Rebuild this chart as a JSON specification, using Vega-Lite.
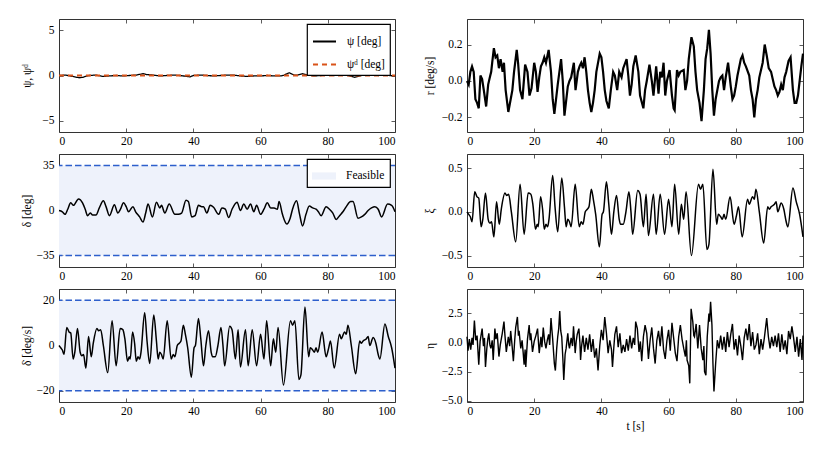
{
  "$schema": "https://vega.github.io/schema/vega-lite/v6.json",
  "background": "white",
  "padding": {"left": 21, "top": 18, "right": 5, "bottom": 5},
  "datasets": {
    "psi": [
      {"t": 0, "v": 0, "s": "ψ [deg]"}, {"t": 2, "v": 0.05, "s": "ψ [deg]"}, {"t": 4, "v": -0.1, "s": "ψ [deg]"}, {"t": 6, "v": -0.25, "s": "ψ [deg]"}, {"t": 7, "v": -0.2, "s": "ψ [deg]"}, {"t": 9, "v": 0, "s": "ψ [deg]"}, {"t": 11, "v": 0.05, "s": "ψ [deg]"}, {"t": 13, "v": -0.1, "s": "ψ [deg]"}, {"t": 15, "v": -0.05, "s": "ψ [deg]"}, {"t": 17, "v": 0, "s": "ψ [deg]"}, {"t": 19, "v": -0.05, "s": "ψ [deg]"}, {"t": 21, "v": 0, "s": "ψ [deg]"}, {"t": 23, "v": 0.05, "s": "ψ [deg]"}, {"t": 25, "v": 0.2, "s": "ψ [deg]"}, {"t": 26, "v": 0.1, "s": "ψ [deg]"}, {"t": 28, "v": 0.05, "s": "ψ [deg]"}, {"t": 30, "v": -0.05, "s": "ψ [deg]"}, {"t": 32, "v": 0, "s": "ψ [deg]"}, {"t": 34, "v": 0.05, "s": "ψ [deg]"}, {"t": 36, "v": 0, "s": "ψ [deg]"}, {"t": 38, "v": -0.1, "s": "ψ [deg]"}, {"t": 39, "v": -0.15, "s": "ψ [deg]"}, {"t": 40, "v": 0, "s": "ψ [deg]"}, {"t": 42, "v": 0.05, "s": "ψ [deg]"}, {"t": 44, "v": 0, "s": "ψ [deg]"}, {"t": 46, "v": -0.05, "s": "ψ [deg]"}, {"t": 48, "v": 0, "s": "ψ [deg]"}, {"t": 50, "v": 0.05, "s": "ψ [deg]"}, {"t": 52, "v": 0.05, "s": "ψ [deg]"}, {"t": 54, "v": -0.05, "s": "ψ [deg]"}, {"t": 56, "v": -0.1, "s": "ψ [deg]"}, {"t": 58, "v": -0.05, "s": "ψ [deg]"}, {"t": 60, "v": -0.05, "s": "ψ [deg]"}, {"t": 62, "v": 0, "s": "ψ [deg]"}, {"t": 64, "v": -0.05, "s": "ψ [deg]"}, {"t": 66, "v": -0.05, "s": "ψ [deg]"}, {"t": 67, "v": 0.05, "s": "ψ [deg]"}, {"t": 68.5, "v": 0.3, "s": "ψ [deg]"}, {"t": 70, "v": 0.05, "s": "ψ [deg]"}, {"t": 71, "v": 0.05, "s": "ψ [deg]"}, {"t": 72.5, "v": 0.2, "s": "ψ [deg]"}, {"t": 74, "v": 0.05, "s": "ψ [deg]"}, {"t": 76, "v": -0.05, "s": "ψ [deg]"}, {"t": 78, "v": 0, "s": "ψ [deg]"}, {"t": 80, "v": 0.05, "s": "ψ [deg]"}, {"t": 82, "v": 0, "s": "ψ [deg]"}, {"t": 84, "v": 0.15, "s": "ψ [deg]"}, {"t": 85, "v": 0.1, "s": "ψ [deg]"}, {"t": 86, "v": 0, "s": "ψ [deg]"}, {"t": 88, "v": -0.2, "s": "ψ [deg]"}, {"t": 89, "v": -0.1, "s": "ψ [deg]"}, {"t": 91, "v": 0.1, "s": "ψ [deg]"}, {"t": 93, "v": 0.05, "s": "ψ [deg]"}, {"t": 95, "v": 0, "s": "ψ [deg]"}, {"t": 97, "v": 0.05, "s": "ψ [deg]"}, {"t": 100, "v": -0.05, "s": "ψ [deg]"},
      {"t": 0, "v": 0, "s": "ψᵈ [deg]"}, {"t": 100, "v": 0, "s": "ψᵈ [deg]"}
    ],
    "delta": [
      {"t": 0, "d": 0}, {"t": 1, "d": -1}, {"t": 1.8, "d": -3}, {"t": 2.6, "d": 1}, {"t": 3.5, "d": 6}, {"t": 4.3, "d": 4}, {"t": 5.8, "d": 9}, {"t": 7, "d": 6}, {"t": 7.8, "d": 1}, {"t": 8.5, "d": -4}, {"t": 9.3, "d": -2}, {"t": 10, "d": -3.5}, {"t": 11, "d": -3.5}, {"t": 12, "d": 2}, {"t": 13.2, "d": 7.5}, {"t": 14, "d": 3}, {"t": 15, "d": -4}, {"t": 16.5, "d": 4.5}, {"t": 17.5, "d": -2}, {"t": 18.3, "d": 1}, {"t": 19.2, "d": 6}, {"t": 20, "d": 3}, {"t": 20.7, "d": -1}, {"t": 22, "d": 3}, {"t": 22.8, "d": -1}, {"t": 24, "d": -5}, {"t": 25, "d": -9}, {"t": 25.8, "d": -2}, {"t": 26.5, "d": 5}, {"t": 27.8, "d": -5}, {"t": 29, "d": 6.5}, {"t": 30, "d": 2}, {"t": 30.5, "d": 4}, {"t": 31.5, "d": -2}, {"t": 32.8, "d": 5}, {"t": 34.5, "d": -3}, {"t": 35.5, "d": -3}, {"t": 36.5, "d": -2}, {"t": 37.8, "d": 8}, {"t": 38.5, "d": 7}, {"t": 39.5, "d": -5}, {"t": 40.5, "d": -4}, {"t": 41.5, "d": 4}, {"t": 42.5, "d": 3}, {"t": 43, "d": 3}, {"t": 44, "d": -2}, {"t": 45, "d": 4}, {"t": 46, "d": 2.5}, {"t": 47.5, "d": -3}, {"t": 48.5, "d": 2}, {"t": 49.5, "d": 1}, {"t": 50.5, "d": -5.5}, {"t": 51.5, "d": 1}, {"t": 53, "d": 6.5}, {"t": 54, "d": 0}, {"t": 55, "d": 5}, {"t": 56, "d": 1}, {"t": 57, "d": 5}, {"t": 58, "d": -1}, {"t": 58.8, "d": 4}, {"t": 60, "d": -3}, {"t": 61, "d": 1}, {"t": 62, "d": 6}, {"t": 63, "d": 2}, {"t": 64, "d": 2}, {"t": 65, "d": 1}, {"t": 65.5, "d": 7}, {"t": 66.5, "d": -3}, {"t": 67.8, "d": -10.5}, {"t": 68.8, "d": -6}, {"t": 69.5, "d": 1}, {"t": 70.7, "d": 7.5}, {"t": 71.6, "d": -3}, {"t": 72.5, "d": -12}, {"t": 73.5, "d": -3}, {"t": 74.5, "d": 3.5}, {"t": 75.5, "d": 2}, {"t": 76.5, "d": 1}, {"t": 77.2, "d": -1}, {"t": 78, "d": -4}, {"t": 79.5, "d": 3}, {"t": 80.5, "d": 1}, {"t": 81.5, "d": -2}, {"t": 82.5, "d": -7}, {"t": 83.5, "d": -4}, {"t": 84.5, "d": -1}, {"t": 85.5, "d": 3}, {"t": 86.8, "d": 7}, {"t": 87.5, "d": 7}, {"t": 89, "d": -6}, {"t": 90, "d": -5}, {"t": 91, "d": -3}, {"t": 92, "d": 0}, {"t": 93, "d": 2}, {"t": 94, "d": 3}, {"t": 95, "d": 1}, {"t": 96, "d": -5}, {"t": 97.8, "d": 5}, {"t": 99, "d": 4}, {"t": 100, "d": -1}
    ],
    "rate": [
      {"t": 0, "dd": 0, "xi": 0}, {"t": 0.5, "dd": -1, "xi": -0.029}, {"t": 1, "dd": -2, "xi": -0.057}, {"t": 1.5, "dd": -4, "xi": -0.114}, {"t": 2.3, "dd": 8, "xi": 0.229}, {"t": 3, "dd": 6, "xi": 0.171}, {"t": 3.5, "dd": 5.5, "xi": 0.157}, {"t": 4.2, "dd": -6, "xi": -0.171}, {"t": 4.7, "dd": -3, "xi": -0.086}, {"t": 5.5, "dd": 7.5, "xi": 0.214}, {"t": 6.3, "dd": -3, "xi": -0.086}, {"t": 6.8, "dd": -4.5, "xi": -0.129}, {"t": 7.3, "dd": -4, "xi": -0.114}, {"t": 8, "dd": -10, "xi": -0.286}, {"t": 8.8, "dd": 4, "xi": 0.114}, {"t": 9.6, "dd": -5, "xi": -0.143}, {"t": 10.2, "dd": 1, "xi": 0.029}, {"t": 11.3, "dd": 7.5, "xi": 0.214}, {"t": 11.8, "dd": 6.5, "xi": 0.186}, {"t": 12.4, "dd": 7, "xi": 0.2}, {"t": 13.2, "dd": 0, "xi": 0}, {"t": 14.5, "dd": -12, "xi": -0.343}, {"t": 15.8, "dd": 11, "xi": 0.314}, {"t": 17, "dd": -9, "xi": -0.257}, {"t": 18.2, "dd": 7.5, "xi": 0.214}, {"t": 19, "dd": 7, "xi": 0.2}, {"t": 19.6, "dd": 3, "xi": 0.086}, {"t": 20.4, "dd": -7, "xi": -0.2}, {"t": 20.9, "dd": -5, "xi": -0.143}, {"t": 21.2, "dd": -6, "xi": -0.171}, {"t": 21.9, "dd": 6, "xi": 0.171}, {"t": 22.5, "dd": 1, "xi": 0.029}, {"t": 23, "dd": -7, "xi": -0.2}, {"t": 23.5, "dd": -5, "xi": -0.143}, {"t": 24, "dd": -6, "xi": -0.171}, {"t": 24.4, "dd": -3, "xi": -0.086}, {"t": 25.5, "dd": 14.5, "xi": 0.414}, {"t": 26.2, "dd": 2, "xi": 0.057}, {"t": 27, "dd": -8, "xi": -0.229}, {"t": 28.2, "dd": 13.5, "xi": 0.386}, {"t": 29, "dd": 2, "xi": 0.057}, {"t": 29.5, "dd": -6, "xi": -0.171}, {"t": 30, "dd": -3, "xi": -0.086}, {"t": 30.5, "dd": -4, "xi": -0.114}, {"t": 31, "dd": -6, "xi": -0.171}, {"t": 32.2, "dd": 11, "xi": 0.314}, {"t": 33.4, "dd": -6, "xi": -0.171}, {"t": 34, "dd": -4, "xi": -0.114}, {"t": 34.5, "dd": -5, "xi": -0.143}, {"t": 35.2, "dd": 0, "xi": 0}, {"t": 35.8, "dd": 1, "xi": 0.029}, {"t": 36.3, "dd": 2, "xi": 0.057}, {"t": 37, "dd": 9, "xi": 0.257}, {"t": 37.6, "dd": 5, "xi": 0.143}, {"t": 38.3, "dd": -1, "xi": -0.029}, {"t": 39.4, "dd": -14, "xi": -0.4}, {"t": 40.2, "dd": -1, "xi": -0.029}, {"t": 40.6, "dd": 0, "xi": 0}, {"t": 41.5, "dd": 12, "xi": 0.343}, {"t": 42.2, "dd": 3, "xi": 0.086}, {"t": 43, "dd": -9, "xi": -0.257}, {"t": 43.7, "dd": 0, "xi": 0}, {"t": 44.5, "dd": 6.5, "xi": 0.186}, {"t": 45.3, "dd": -3, "xi": -0.086}, {"t": 45.7, "dd": -5, "xi": -0.143}, {"t": 46.5, "dd": -5, "xi": -0.143}, {"t": 47.3, "dd": 0, "xi": 0}, {"t": 48.2, "dd": 8, "xi": 0.229}, {"t": 48.8, "dd": 0, "xi": 0}, {"t": 49.3, "dd": -9, "xi": -0.257}, {"t": 50.8, "dd": 8.5, "xi": 0.243}, {"t": 51.5, "dd": 7, "xi": 0.2}, {"t": 52.5, "dd": -6, "xi": -0.171}, {"t": 53.3, "dd": 7, "xi": 0.2}, {"t": 54, "dd": -9.5, "xi": -0.271}, {"t": 55.5, "dd": 7, "xi": 0.2}, {"t": 56.3, "dd": -9, "xi": -0.257}, {"t": 57.5, "dd": 7, "xi": 0.2}, {"t": 58.8, "dd": -9, "xi": -0.257}, {"t": 60, "dd": 5, "xi": 0.143}, {"t": 61, "dd": -6, "xi": -0.171}, {"t": 61.8, "dd": 11, "xi": 0.314}, {"t": 63, "dd": -9, "xi": -0.257}, {"t": 63.8, "dd": 3, "xi": 0.086}, {"t": 64.5, "dd": -3, "xi": -0.086}, {"t": 65.2, "dd": 8, "xi": 0.229}, {"t": 66.8, "dd": -17.5, "xi": -0.5}, {"t": 68.9, "dd": 11, "xi": 0.314}, {"t": 69.5, "dd": 9, "xi": 0.257}, {"t": 70.2, "dd": 11, "xi": 0.314}, {"t": 71.4, "dd": -15, "xi": -0.429}, {"t": 72, "dd": -13, "xi": -0.371}, {"t": 73.2, "dd": 17, "xi": 0.486}, {"t": 74.3, "dd": -5, "xi": -0.143}, {"t": 74.8, "dd": -1, "xi": -0.029}, {"t": 75.5, "dd": -2, "xi": -0.057}, {"t": 76, "dd": -3, "xi": -0.086}, {"t": 76.5, "dd": -1, "xi": -0.029}, {"t": 77, "dd": -3, "xi": -0.086}, {"t": 78.3, "dd": 6, "xi": 0.171}, {"t": 79.5, "dd": -5, "xi": -0.143}, {"t": 80.2, "dd": -1.5, "xi": -0.043}, {"t": 80.8, "dd": 2, "xi": 0.057}, {"t": 81.9, "dd": -10, "xi": -0.286}, {"t": 83.5, "dd": 5, "xi": 0.143}, {"t": 84, "dd": 3, "xi": 0.086}, {"t": 85, "dd": 6, "xi": 0.171}, {"t": 85.5, "dd": 5, "xi": 0.143}, {"t": 86, "dd": 9, "xi": 0.257}, {"t": 87, "dd": 0, "xi": 0}, {"t": 88.3, "dd": -12.5, "xi": -0.357}, {"t": 89.5, "dd": 2, "xi": 0.057}, {"t": 90, "dd": 1, "xi": 0.029}, {"t": 90.5, "dd": 2, "xi": 0.057}, {"t": 91.5, "dd": 3, "xi": 0.086}, {"t": 92, "dd": 4, "xi": 0.114}, {"t": 92.5, "dd": 0, "xi": 0}, {"t": 93.5, "dd": 3.5, "xi": 0.1}, {"t": 94.3, "dd": 1, "xi": 0.029}, {"t": 95, "dd": -4, "xi": -0.114}, {"t": 95.5, "dd": -6, "xi": -0.171}, {"t": 97, "dd": 9.5, "xi": 0.271}, {"t": 98, "dd": 4, "xi": 0.114}, {"t": 99, "dd": -1, "xi": -0.029}, {"t": 100, "dd": -10, "xi": -0.286}
    ],
    "yaw": [
      {"t": 0, "r": 0}, {"t": 0.5, "r": -0.02}, {"t": 1, "r": 0.05}, {"t": 1.5, "r": 0.08}, {"t": 2, "r": 0.05}, {"t": 2.5, "r": -0.1}, {"t": 3, "r": -0.12}, {"t": 3.5, "r": -0.15}, {"t": 4, "r": 0.03}, {"t": 4.5, "r": 0.01}, {"t": 5, "r": -0.05}, {"t": 5.7, "r": -0.14}, {"t": 6.3, "r": -0.02}, {"t": 6.8, "r": 0.02}, {"t": 7.2, "r": 0.05}, {"t": 7.5, "r": 0.1}, {"t": 8, "r": 0.18}, {"t": 8.5, "r": 0.13}, {"t": 9, "r": 0.14}, {"t": 9.5, "r": 0.07}, {"t": 10, "r": 0.12}, {"t": 10.6, "r": 0.05}, {"t": 11, "r": 0.1}, {"t": 11.5, "r": -0.05}, {"t": 12.3, "r": -0.17}, {"t": 13, "r": -0.1}, {"t": 13.5, "r": -0.05}, {"t": 14, "r": 0.05}, {"t": 14.8, "r": 0.17}, {"t": 15.2, "r": 0.1}, {"t": 15.8, "r": -0.05}, {"t": 16.5, "r": -0.1}, {"t": 17.3, "r": 0.09}, {"t": 18, "r": 0.05}, {"t": 18.6, "r": -0.08}, {"t": 19.2, "r": -0.04}, {"t": 20, "r": 0.1}, {"t": 20.5, "r": 0.05}, {"t": 21, "r": -0.06}, {"t": 21.5, "r": 0.02}, {"t": 22, "r": 0.08}, {"t": 22.5, "r": 0.1}, {"t": 23, "r": 0.13}, {"t": 23.5, "r": 0.1}, {"t": 24.3, "r": 0.17}, {"t": 25, "r": 0.05}, {"t": 25.5, "r": -0.1}, {"t": 26, "r": -0.18}, {"t": 27, "r": -0.02}, {"t": 27.5, "r": 0.05}, {"t": 28, "r": 0.12}, {"t": 28.5, "r": 0}, {"t": 29, "r": -0.19}, {"t": 30, "r": -0.03}, {"t": 30.5, "r": 0}, {"t": 31, "r": 0.02}, {"t": 31.8, "r": 0.1}, {"t": 32.3, "r": -0.05}, {"t": 33, "r": 0.05}, {"t": 33.5, "r": 0.08}, {"t": 34, "r": 0.1}, {"t": 34.5, "r": 0.07}, {"t": 35, "r": 0.13}, {"t": 35.5, "r": 0.05}, {"t": 36, "r": -0.05}, {"t": 36.5, "r": -0.12}, {"t": 37, "r": -0.17}, {"t": 37.5, "r": -0.12}, {"t": 38, "r": -0.05}, {"t": 38.5, "r": 0.05}, {"t": 39.5, "r": 0.15}, {"t": 40, "r": 0.13}, {"t": 40.5, "r": 0.05}, {"t": 41, "r": -0.05}, {"t": 41.5, "r": -0.11}, {"t": 42.2, "r": -0.15}, {"t": 42.8, "r": -0.05}, {"t": 43.5, "r": 0.05}, {"t": 44, "r": 0.03}, {"t": 44.7, "r": -0.05}, {"t": 45.3, "r": 0.05}, {"t": 46, "r": 0.02}, {"t": 46.5, "r": 0.07}, {"t": 47.5, "r": 0.12}, {"t": 48, "r": 0.03}, {"t": 48.5, "r": -0.08}, {"t": 49, "r": -0.02}, {"t": 49.5, "r": 0.08}, {"t": 50.2, "r": 0.14}, {"t": 51, "r": 0.05}, {"t": 51.5, "r": -0.08}, {"t": 52.5, "r": -0.15}, {"t": 53, "r": -0.05}, {"t": 53.5, "r": 0}, {"t": 54.3, "r": 0.09}, {"t": 55, "r": 0}, {"t": 55.5, "r": -0.08}, {"t": 56.3, "r": 0.08}, {"t": 57, "r": -0.07}, {"t": 57.5, "r": 0.05}, {"t": 58, "r": 0.02}, {"t": 58.5, "r": 0.1}, {"t": 59, "r": -0.08}, {"t": 59.5, "r": 0}, {"t": 60.3, "r": 0.06}, {"t": 61, "r": -0.08}, {"t": 61.5, "r": -0.15}, {"t": 61.8, "r": -0.16}, {"t": 62.5, "r": 0.06}, {"t": 63, "r": 0.03}, {"t": 63.5, "r": 0.05}, {"t": 64.5, "r": 0.06}, {"t": 65, "r": -0.05}, {"t": 65.5, "r": 0}, {"t": 66, "r": 0.12}, {"t": 66.8, "r": 0.24}, {"t": 67.5, "r": 0.19}, {"t": 68, "r": 0.05}, {"t": 68.5, "r": -0.05}, {"t": 69.2, "r": -0.12}, {"t": 69.8, "r": -0.22}, {"t": 70.5, "r": -0.05}, {"t": 71, "r": 0.12}, {"t": 71.5, "r": 0.18}, {"t": 72, "r": 0.28}, {"t": 72.5, "r": 0.15}, {"t": 73, "r": -0.05}, {"t": 73.5, "r": -0.19}, {"t": 74, "r": -0.1}, {"t": 74.5, "r": -0.05}, {"t": 75, "r": 0}, {"t": 75.5, "r": 0.02}, {"t": 76, "r": 0.03}, {"t": 76.5, "r": -0.05}, {"t": 77, "r": 0.02}, {"t": 77.7, "r": 0.1}, {"t": 78.5, "r": -0.03}, {"t": 79, "r": -0.1}, {"t": 79.5, "r": -0.08}, {"t": 80, "r": -0.03}, {"t": 80.5, "r": 0.03}, {"t": 81.5, "r": 0.12}, {"t": 82, "r": 0.14}, {"t": 82.5, "r": 0.1}, {"t": 83, "r": 0.08}, {"t": 84, "r": 0.03}, {"t": 84.5, "r": -0.05}, {"t": 85, "r": -0.1}, {"t": 85.5, "r": -0.2}, {"t": 86, "r": -0.1}, {"t": 86.5, "r": -0.05}, {"t": 87, "r": 0.02}, {"t": 88, "r": 0.1}, {"t": 88.6, "r": 0.2}, {"t": 89.2, "r": 0.14}, {"t": 89.8, "r": 0.07}, {"t": 90.5, "r": 0.05}, {"t": 91, "r": 0.01}, {"t": 91.5, "r": -0.03}, {"t": 92, "r": -0.05}, {"t": 92.5, "r": -0.08}, {"t": 93, "r": -0.06}, {"t": 93.5, "r": -0.02}, {"t": 94, "r": -0.05}, {"t": 94.5, "r": 0.02}, {"t": 95, "r": 0.05}, {"t": 95.7, "r": 0.11}, {"t": 96.3, "r": 0.13}, {"t": 97, "r": -0.05}, {"t": 97.5, "r": -0.12}, {"t": 98, "r": -0.12}, {"t": 98.5, "r": -0.08}, {"t": 99, "r": 0}, {"t": 99.5, "r": 0.08}, {"t": 100, "r": 0.15}
    ],
    "eta": [
      {"t": 0, "e": 0.5}, {"t": 0.3, "e": -0.7}, {"t": 0.7, "e": 0.3}, {"t": 1.1, "e": -0.6}, {"t": 1.5, "e": 0.4}, {"t": 1.8, "e": -0.2}, {"t": 2.2, "e": 1.9}, {"t": 2.6, "e": 0.2}, {"t": 3, "e": 0.6}, {"t": 3.5, "e": -1.9}, {"t": 3.9, "e": 0.1}, {"t": 4.5, "e": 1.2}, {"t": 4.9, "e": -0.3}, {"t": 5.2, "e": 0.4}, {"t": 5.5, "e": -2.1}, {"t": 5.9, "e": -0.5}, {"t": 6.2, "e": 0.3}, {"t": 6.5, "e": 0.8}, {"t": 6.8, "e": -0.2}, {"t": 7.1, "e": -0.5}, {"t": 7.5, "e": 0.2}, {"t": 7.8, "e": -1.5}, {"t": 8.3, "e": 1.2}, {"t": 8.6, "e": 0.3}, {"t": 9, "e": 0.8}, {"t": 9.5, "e": -1.2}, {"t": 9.9, "e": -0.2}, {"t": 10.5, "e": 0.8}, {"t": 11, "e": 1.8}, {"t": 11.3, "e": 0.6}, {"t": 11.7, "e": -0.8}, {"t": 12.3, "e": 0.5}, {"t": 12.7, "e": -0.3}, {"t": 13, "e": 1.0}, {"t": 13.4, "e": -0.2}, {"t": 13.8, "e": -1.6}, {"t": 14.2, "e": 0.2}, {"t": 14.5, "e": 1.3}, {"t": 15, "e": 2.2}, {"t": 15.3, "e": 0.6}, {"t": 15.5, "e": 1.0}, {"t": 16, "e": -0.5}, {"t": 16.4, "e": 0.2}, {"t": 16.7, "e": -0.8}, {"t": 17, "e": -1.9}, {"t": 17.3, "e": -0.6}, {"t": 17.5, "e": -2.1}, {"t": 18, "e": 0.3}, {"t": 18.5, "e": 1.5}, {"t": 18.8, "e": 0.2}, {"t": 19, "e": 0.8}, {"t": 19.5, "e": -0.8}, {"t": 20, "e": 0.1}, {"t": 20.5, "e": 0.6}, {"t": 21, "e": 1.2}, {"t": 21.3, "e": -0.1}, {"t": 21.5, "e": -0.9}, {"t": 22, "e": 0.5}, {"t": 22.3, "e": -0.4}, {"t": 22.7, "e": 1.3}, {"t": 23.1, "e": 0.1}, {"t": 23.5, "e": -0.5}, {"t": 23.9, "e": 0.2}, {"t": 24.3, "e": 0.7}, {"t": 24.6, "e": -0.2}, {"t": 25, "e": 2.1}, {"t": 25.3, "e": 1.0}, {"t": 25.5, "e": 0.3}, {"t": 26, "e": -1.8}, {"t": 26.3, "e": -2.4}, {"t": 26.7, "e": -0.5}, {"t": 27, "e": 0.5}, {"t": 27.3, "e": 1.2}, {"t": 27.6, "e": 2.7}, {"t": 27.9, "e": 1.0}, {"t": 28.2, "e": 0.5}, {"t": 28.5, "e": -1.2}, {"t": 28.8, "e": -3.2}, {"t": 29.2, "e": -1.0}, {"t": 29.5, "e": -0.5}, {"t": 30, "e": 0.8}, {"t": 30.3, "e": -0.2}, {"t": 30.5, "e": -0.5}, {"t": 31, "e": 0.4}, {"t": 31.4, "e": -0.3}, {"t": 31.7, "e": 1.4}, {"t": 32.2, "e": -0.9}, {"t": 32.5, "e": 0.1}, {"t": 32.8, "e": 0.7}, {"t": 33.3, "e": 1.2}, {"t": 33.6, "e": 0.0}, {"t": 33.8, "e": -1.5}, {"t": 34.1, "e": -0.3}, {"t": 34.5, "e": 0.6}, {"t": 35, "e": -0.8}, {"t": 35.5, "e": 0.4}, {"t": 36, "e": -0.6}, {"t": 36.5, "e": 0.7}, {"t": 37, "e": -0.8}, {"t": 37.5, "e": 0.3}, {"t": 38, "e": -1.3}, {"t": 38.5, "e": -0.5}, {"t": 39, "e": -2.4}, {"t": 39.5, "e": -0.3}, {"t": 40, "e": 1.1}, {"t": 40.5, "e": 0.2}, {"t": 41, "e": 2.2}, {"t": 41.5, "e": 0.8}, {"t": 42, "e": -0.9}, {"t": 42.5, "e": 0.2}, {"t": 43, "e": -0.6}, {"t": 43.3, "e": -2.1}, {"t": 43.7, "e": -0.4}, {"t": 44, "e": 0.7}, {"t": 44.5, "e": 1.4}, {"t": 45, "e": -0.4}, {"t": 45.5, "e": 0.8}, {"t": 46, "e": -0.9}, {"t": 46.5, "e": -0.2}, {"t": 47, "e": -0.8}, {"t": 47.5, "e": 0.3}, {"t": 48, "e": -0.7}, {"t": 48.5, "e": 0.6}, {"t": 49, "e": -0.5}, {"t": 49.5, "e": 0.4}, {"t": 49.9, "e": -0.2}, {"t": 50.2, "e": 1.8}, {"t": 50.7, "e": 1.2}, {"t": 51.2, "e": -0.8}, {"t": 51.6, "e": 0.1}, {"t": 52, "e": -1.6}, {"t": 52.5, "e": 0.5}, {"t": 53, "e": 1.5}, {"t": 53.5, "e": 0.8}, {"t": 54, "e": -1.4}, {"t": 54.5, "e": 0.2}, {"t": 55, "e": 1.3}, {"t": 55.5, "e": -0.5}, {"t": 56, "e": -1.8}, {"t": 56.5, "e": 0.2}, {"t": 57, "e": 1.0}, {"t": 57.5, "e": -0.3}, {"t": 58, "e": 1.4}, {"t": 58.5, "e": -0.6}, {"t": 59, "e": -1.4}, {"t": 59.5, "e": 0.2}, {"t": 60, "e": 1.1}, {"t": 60.5, "e": -0.7}, {"t": 61, "e": 1.7}, {"t": 61.5, "e": 0.4}, {"t": 62, "e": -0.9}, {"t": 62.5, "e": -1.6}, {"t": 63, "e": 0.5}, {"t": 63.5, "e": 1.5}, {"t": 64, "e": 0.3}, {"t": 64.5, "e": -0.5}, {"t": 65, "e": -1.2}, {"t": 65.3, "e": 0.2}, {"t": 65.5, "e": -1.5}, {"t": 66, "e": -2.0}, {"t": 66.3, "e": -3.5}, {"t": 66.7, "e": 2.9}, {"t": 67.2, "e": 1.8}, {"t": 67.5, "e": 0.6}, {"t": 67.7, "e": 0.5}, {"t": 68.2, "e": 1.6}, {"t": 68.7, "e": -0.5}, {"t": 69.2, "e": 1.5}, {"t": 69.7, "e": -0.5}, {"t": 70.2, "e": -1.5}, {"t": 70.5, "e": -0.3}, {"t": 70.7, "e": -2.5}, {"t": 71.1, "e": -2.8}, {"t": 71.5, "e": 0.5}, {"t": 72, "e": 2.5}, {"t": 72.2, "e": 1.8}, {"t": 72.5, "e": 3.5}, {"t": 72.9, "e": 1.5}, {"t": 73.2, "e": -1.8}, {"t": 73.5, "e": -4.2}, {"t": 74, "e": -1.8}, {"t": 74.5, "e": 0.2}, {"t": 75, "e": -0.5}, {"t": 75.5, "e": 0.6}, {"t": 76, "e": -0.6}, {"t": 76.5, "e": 0.5}, {"t": 77, "e": -0.8}, {"t": 77.5, "e": 0.9}, {"t": 78, "e": -0.4}, {"t": 78.5, "e": 0.7}, {"t": 79, "e": 1.6}, {"t": 79.5, "e": -0.6}, {"t": 80, "e": 0.3}, {"t": 80.5, "e": -1.1}, {"t": 81, "e": 0.6}, {"t": 81.5, "e": -0.3}, {"t": 82, "e": -1.5}, {"t": 82.5, "e": 0.4}, {"t": 83, "e": 1.2}, {"t": 83.5, "e": 0.2}, {"t": 84, "e": 1.6}, {"t": 84.5, "e": -0.3}, {"t": 85, "e": 0.9}, {"t": 85.5, "e": -0.6}, {"t": 86, "e": -0.2}, {"t": 86.5, "e": 0.8}, {"t": 87, "e": -1.0}, {"t": 87.5, "e": 0.3}, {"t": 88, "e": -0.6}, {"t": 88.5, "e": 0.4}, {"t": 89.2, "e": 2.1}, {"t": 89.7, "e": 0.5}, {"t": 90.2, "e": -0.5}, {"t": 90.7, "e": 0.5}, {"t": 91.2, "e": -0.3}, {"t": 91.7, "e": 0.6}, {"t": 92.2, "e": -0.4}, {"t": 92.7, "e": 0.8}, {"t": 93.2, "e": -0.8}, {"t": 93.7, "e": 0.7}, {"t": 94.2, "e": -0.6}, {"t": 94.7, "e": 0.2}, {"t": 95.2, "e": -1.0}, {"t": 95.7, "e": 1.0}, {"t": 96.2, "e": 0.3}, {"t": 96.7, "e": 1.4}, {"t": 97.2, "e": 0.4}, {"t": 97.7, "e": -0.8}, {"t": 98.2, "e": 0.5}, {"t": 98.7, "e": -1.2}, {"t": 99.2, "e": 0.3}, {"t": 99.7, "e": -1.5}, {"t": 100, "e": 0.6}
    ]
  },
  "hconcat": [
    {
      "spacing": 6,
      "resolve": {"scale": {"color": "independent", "fill": "independent", "strokeDash": "independent"}},
      "vconcat": [
        {
          "width": 336, "height": 113,
          "data": {"name": "psi"},
          "layer": [
            {
              "transform": [{"filter": "datum.s === 'ψ [deg]'"}],
              "mark": {"type": "line", "strokeWidth": 1.3},
              "encoding": {
                "x": {"field": "t", "type": "quantitative", "scale": {"domain": [0, 100], "nice": false}, "axis": {"values": [0, 20, 40, 60, 80, 100], "title": null}},
                "y": {"field": "v", "type": "quantitative", "scale": {"domain": [-6.25, 6.25], "nice": false, "zero": false}, "axis": {"values": [-5, 0, 5], "title": "ψ, ψᵈ", "titleX": -27}},
                "color": {"field": "s", "type": "nominal", "scale": {"domain": ["ψ [deg]", "ψᵈ [deg]"], "range": ["#000000", "#D95319"]},
                  "legend": {"title": null, "orient": "top-right", "offset": 5, "strokeColor": "#000", "fillColor": "#fff", "padding": 5, "symbolType": "stroke", "symbolSize": 529, "symbolStrokeWidth": 1.8, "labelOffset": 10, "rowPadding": 5}},
                "strokeDash": {"field": "s", "type": "nominal", "scale": {"domain": ["ψ [deg]", "ψᵈ [deg]"], "range": [[1, 0], [5, 4]]},
                  "legend": {"title": null, "orient": "top-right", "offset": 5, "strokeColor": "#000", "fillColor": "#fff", "padding": 5, "symbolType": "stroke", "symbolSize": 529, "symbolStrokeWidth": 1.8, "labelOffset": 10, "rowPadding": 5}}
              }
            },
            {
              "transform": [{"filter": "datum.s !== 'ψ [deg]'"}],
              "mark": {"type": "line", "strokeWidth": 2.2},
              "encoding": {
                "x": {"field": "t", "type": "quantitative", "axis": null},
                "y": {"field": "v", "type": "quantitative", "axis": null},
                "color": {"field": "s", "type": "nominal"},
                "strokeDash": {"field": "s", "type": "nominal"}
              }
            },
            {
              "mark": {"type": "point", "opacity": 0},
              "encoding": {
                "x": {"field": "t", "type": "quantitative", "axis": {"orient": "top", "labels": false, "title": null, "values": [0, 20, 40, 60, 80, 100]}},
                "y": {"field": "v", "type": "quantitative", "axis": {"orient": "right", "labels": false, "title": null, "values": [-5, 0, 5]}}
              }
            }
          ],
          "resolve": {"axis": {"x": "independent", "y": "independent"}}
        },
        {
          "width": 336, "height": 113,
          "layer": [
            {
              "data": {"values": [{"lo": -35, "hi": 35, "k": "Feasible"}]},
              "mark": {"type": "rect"},
              "encoding": {
                "x": {"datum": 0, "type": "quantitative", "axis": null},
                "x2": {"datum": 100},
                "y": {"field": "lo", "type": "quantitative", "axis": null},
                "y2": {"field": "hi"},
                "fill": {"field": "k", "type": "nominal", "scale": {"range": ["#EEF2FB"]},
                  "legend": {"title": null, "orient": "top-right", "offset": 5, "strokeColor": "#000", "fillColor": "#fff", "padding": 5, "symbolType": "M-1,-0.3L1,-0.3L1,0.3L-1,0.3Z", "symbolSize": 576, "symbolStrokeWidth": 0, "labelOffset": 10}}
              }
            },
            {
              "data": {"values": [{"lo": -35, "hi": 35}]},
              "mark": {"type": "rule", "color": "#2D5FCC", "strokeWidth": 1.6, "strokeDash": [6.5, 3]},
              "encoding": {"y": {"field": "lo", "type": "quantitative", "axis": null}}
            },
            {
              "data": {"values": [{"lo": -35, "hi": 35}]},
              "mark": {"type": "rule", "color": "#2D5FCC", "strokeWidth": 1.6, "strokeDash": [6.5, 3]},
              "encoding": {"y": {"field": "hi", "type": "quantitative", "axis": null}}
            },
            {
              "data": {"name": "delta"},
              "mark": {"type": "line", "color": "#000", "strokeWidth": 1.5, "interpolate": "monotone"},
              "encoding": {
                "x": {"field": "t", "type": "quantitative", "scale": {"domain": [0, 100], "nice": false}, "axis": {"values": [0, 20, 40, 60, 80, 100], "title": null}},
                "y": {"field": "d", "type": "quantitative", "scale": {"domain": [-44, 44], "nice": false, "zero": false}, "axis": {"values": [-35, 0, 35], "title": "δ [deg]", "titleX": -27}}
              }
            },
            {
              "data": {"name": "delta"},
              "mark": {"type": "point", "opacity": 0},
              "encoding": {
                "x": {"field": "t", "type": "quantitative", "axis": {"orient": "top", "labels": false, "title": null, "values": [0, 20, 40, 60, 80, 100]}},
                "y": {"field": "d", "type": "quantitative", "axis": {"orient": "right", "labels": false, "title": null, "values": [-35, 0, 35]}}
              }
            }
          ],
          "resolve": {"axis": {"x": "independent", "y": "independent"}}
        },
        {
          "width": 336, "height": 113,
          "layer": [
            {
              "data": {"values": [{"lo": -20, "hi": 20}]},
              "mark": {"type": "rect", "fill": "#EEF2FB"},
              "encoding": {
                "x": {"datum": 0, "type": "quantitative", "axis": null},
                "x2": {"datum": 100},
                "y": {"field": "lo", "type": "quantitative", "axis": null},
                "y2": {"field": "hi"}
              }
            },
            {
              "data": {"values": [{"lo": -20, "hi": 20}]},
              "mark": {"type": "rule", "color": "#2D5FCC", "strokeWidth": 1.6, "strokeDash": [6.5, 3]},
              "encoding": {"y": {"field": "lo", "type": "quantitative", "axis": null}}
            },
            {
              "data": {"values": [{"lo": -20, "hi": 20}]},
              "mark": {"type": "rule", "color": "#2D5FCC", "strokeWidth": 1.6, "strokeDash": [6.5, 3]},
              "encoding": {"y": {"field": "hi", "type": "quantitative", "axis": null}}
            },
            {
              "data": {"name": "rate"},
              "mark": {"type": "line", "color": "#000", "strokeWidth": 1.5, "interpolate": "monotone"},
              "encoding": {
                "x": {"field": "t", "type": "quantitative", "scale": {"domain": [0, 100], "nice": false}, "axis": {"values": [0, 20, 40, 60, 80, 100], "title": null}},
                "y": {"field": "dd", "type": "quantitative", "scale": {"domain": [-25, 25], "nice": false, "zero": false}, "axis": {"values": [-20, 0, 20], "title": "δ̇ [deg/s]", "titleX": -27}}
              }
            },
            {
              "data": {"name": "rate"},
              "mark": {"type": "point", "opacity": 0},
              "encoding": {
                "x": {"field": "t", "type": "quantitative", "axis": {"orient": "top", "labels": false, "title": null, "values": [0, 20, 40, 60, 80, 100]}},
                "y": {"field": "dd", "type": "quantitative", "axis": {"orient": "right", "labels": false, "title": null, "values": [-20, 0, 20]}}
              }
            }
          ],
          "resolve": {"axis": {"x": "independent", "y": "independent"}}
        }
      ]
    },
    {
      "spacing": 6,
      "vconcat": [
        {
          "width": 336, "height": 113,
          "data": {"name": "yaw"},
          "layer": [
            {
              "mark": {"type": "line", "color": "#000", "strokeWidth": 2.2},
              "encoding": {
                "x": {"field": "t", "type": "quantitative", "scale": {"domain": [0, 100], "nice": false}, "axis": {"values": [0, 20, 40, 60, 80, 100], "title": null}},
                "y": {"field": "r", "type": "quantitative", "scale": {"domain": [-0.28, 0.34], "nice": false, "zero": false}, "axis": {"values": [-0.2, 0, 0.2], "format": ".1f", "title": "r [deg/s]", "titleX": -32}}
              }
            },
            {
              "mark": {"type": "point", "opacity": 0},
              "encoding": {
                "x": {"field": "t", "type": "quantitative", "axis": {"orient": "top", "labels": false, "title": null, "values": [0, 20, 40, 60, 80, 100]}},
                "y": {"field": "r", "type": "quantitative", "axis": {"orient": "right", "labels": false, "title": null, "values": [-0.2, 0, 0.2]}}
              }
            }
          ],
          "resolve": {"axis": {"x": "independent", "y": "independent"}}
        },
        {
          "width": 336, "height": 113,
          "data": {"name": "rate"},
          "layer": [
            {
              "mark": {"type": "line", "color": "#000", "strokeWidth": 1.5, "interpolate": "monotone"},
              "encoding": {
                "x": {"field": "t", "type": "quantitative", "scale": {"domain": [0, 100], "nice": false}, "axis": {"values": [0, 20, 40, 60, 80, 100], "title": null}},
                "y": {"field": "xi", "type": "quantitative", "scale": {"domain": [-0.63, 0.66], "nice": false, "zero": false}, "axis": {"values": [-0.5, 0, 0.5], "format": ".1f", "title": "ξ", "titleX": -32}}
              }
            },
            {
              "mark": {"type": "point", "opacity": 0},
              "encoding": {
                "x": {"field": "t", "type": "quantitative", "axis": {"orient": "top", "labels": false, "title": null, "values": [0, 20, 40, 60, 80, 100]}},
                "y": {"field": "xi", "type": "quantitative", "axis": {"orient": "right", "labels": false, "title": null, "values": [-0.5, 0, 0.5]}}
              }
            }
          ],
          "resolve": {"axis": {"x": "independent", "y": "independent"}}
        },
        {
          "width": 336, "height": 113,
          "data": {"name": "eta"},
          "layer": [
            {
              "mark": {"type": "line", "color": "#000", "strokeWidth": 1.4},
              "encoding": {
                "x": {"field": "t", "type": "quantitative", "scale": {"domain": [0, 100], "nice": false}, "axis": {"values": [0, 20, 40, 60, 80, 100], "title": "t [s]", "titlePadding": 4}},
                "y": {"field": "e", "type": "quantitative", "scale": {"domain": [-5.1, 4.6], "nice": false, "zero": false}, "axis": {"values": [-5, -2.5, 0, 2.5], "format": ".1f", "title": "η", "titleX": -32}}
              }
            },
            {
              "mark": {"type": "point", "opacity": 0},
              "encoding": {
                "x": {"field": "t", "type": "quantitative", "axis": {"orient": "top", "labels": false, "title": null, "values": [0, 20, 40, 60, 80, 100]}},
                "y": {"field": "e", "type": "quantitative", "axis": {"orient": "right", "labels": false, "title": null, "values": [-5, -2.5, 0, 2.5]}}
              }
            }
          ],
          "resolve": {"axis": {"x": "independent", "y": "independent"}}
        }
      ]
    }
  ],
  "spacing": 24,
  "resolve": {"scale": {"color": "independent", "fill": "independent", "strokeDash": "independent"}},
  "config": {
    "font": "Liberation Serif, Times New Roman, serif",
    "view": {"stroke": null},
    "axis": {
      "grid": false,
      "domainColor": "#333",
      "domainWidth": 1,
      "tickColor": "#333",
      "tickSize": -4,
      "tickWidth": 0.8,
      "labelPadding": 7,
      "labelFont": "Liberation Serif, Times New Roman, serif",
      "labelFontSize": 11.5,
      "labelColor": "#000",
      "titleFont": "Liberation Serif, Times New Roman, serif",
      "titleFontSize": 11.5,
      "titleFontWeight": "normal",
      "titleColor": "#000"
    },
    "axisY": {"labelPadding": 9},
    "legend": {"labelFont": "Liberation Serif, Times New Roman, serif", "labelFontSize": 11.5, "labelColor": "#000", "cornerRadius": 0, "strokeWidth": 1.2}
  }
}
